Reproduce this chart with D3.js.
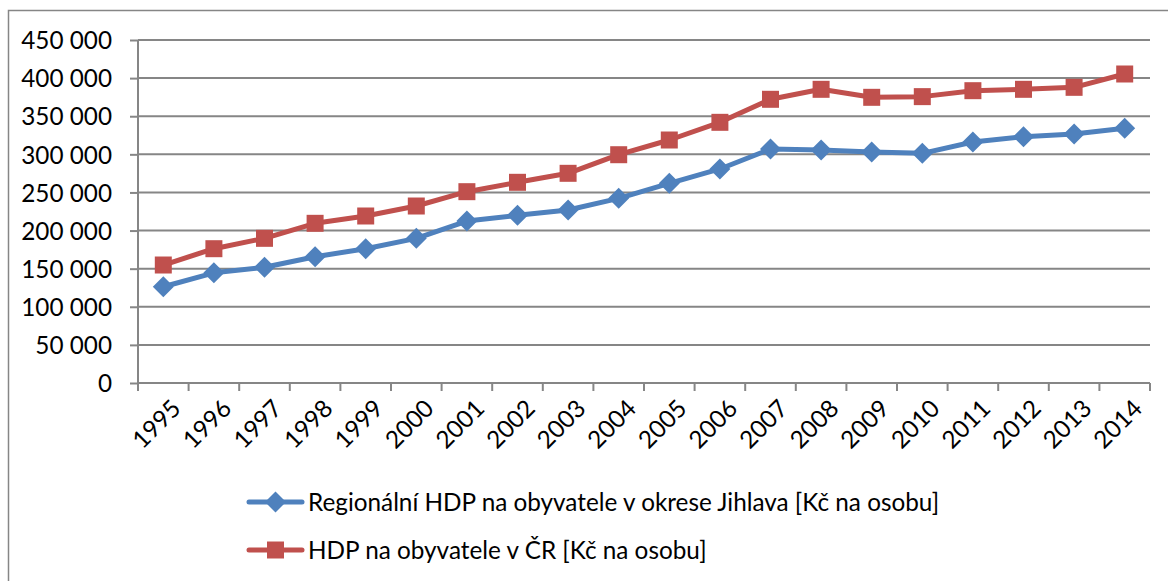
<!DOCTYPE html>
<html>
<head>
<meta charset="utf-8">
<script src="https://cdn.jsdelivr.net/npm/d3@7"></script>
<style>
  body { margin: 0; background: #fff; }
  text { font-family: Lato, "Open Sans", sans-serif; fill: #000; }
</style>
</head>
<body>
<svg id="chart"></svg>
<script>
const years = ["1995","1996","1997","1998","1999","2000","2001","2002","2003","2004",
               "2005","2006","2007","2008","2009","2010","2011","2012","2013","2014"];
const jihlava = [126300, 144500, 151800, 165700, 176200, 189800, 212500, 220000, 227000, 242300,
                 262000, 280800, 307000, 305700, 303100, 301300, 316200, 323200, 326700, 334100];
const czechia = [154800, 176200, 189800, 209500, 219100, 232200, 251000, 263300, 275100, 299500,
                 318800, 342000, 372200, 385300, 374800, 375700, 383500, 385300, 387900, 405400];
const yTicks = [0, 50000, 100000, 150000, 200000, 250000, 300000, 350000, 400000, 450000];
const seriesNames = ["Regionální HDP na obyvatele v okrese Jihlava [Kč na osobu]",
                     "HDP na obyvatele v ČR [Kč na osobu]"];

const svgWidth = 1168, svgHeight = 581;
const margin = {top: 40, left: 138, right: 18, bottom: 198};
const width = svgWidth - margin.left - margin.right,
      height = svgHeight - margin.top - margin.bottom;

const blue = "#4F81BD", red = "#C0504D", grey = "#868686";
const fontSize = "24.3px";

const chart = d3.select("#chart")
    .attr("width", svgWidth)
    .attr("height", svgHeight);

// outer chart border (runs off the right and bottom edge)
chart.append("rect")
    .attr("x", 8.5).attr("y", 10.5)
    .attr("width", svgWidth + 10).attr("height", svgHeight + 10)
    .attr("fill", "none").attr("stroke", grey).attr("stroke-width", 1.5);

const inner = chart.append("g")
    .attr("transform", "translate(" + margin.left + "," + margin.top + ")");

const xScale = d3.scaleBand().domain(years).range([0, width]);
const yScale = d3.scaleLinear().domain([0, 450000]).range([height, 0]);

const fmt = v => d3.format(",")(v).replace(/,/g, " ");

// gridlines
inner.append("g").selectAll("line")
    .data(yTicks.filter(d => d > 0))
    .enter().append("line")
    .attr("x1", 0).attr("x2", width)
    .attr("y1", d => yScale(d)).attr("y2", d => yScale(d))
    .attr("stroke", grey).attr("stroke-width", 2);

// y axis
const yAxis = inner.append("g")
    .call(d3.axisLeft(yScale).tickValues(yTicks).tickFormat(fmt).tickSize(8).tickPadding(18));
yAxis.selectAll("line").attr("stroke", grey).attr("stroke-width", 2);
yAxis.select(".domain").attr("stroke", grey).attr("stroke-width", 2).attr("d", "M0," + height + "V0");
yAxis.selectAll("text").style("font-size", fontSize).attr("fill", "#000").attr("dy", "0.36em");

// x axis with tick marks on the category boundaries
const xg = inner.append("g").attr("transform", "translate(0," + height + ")");
xg.append("line").attr("x1", 0).attr("x2", width)
    .attr("stroke", grey).attr("stroke-width", 2);
xg.selectAll(".tk")
    .data(d3.range(years.length + 1))
    .enter().append("line")
    .attr("x1", i => i * xScale.bandwidth()).attr("x2", i => i * xScale.bandwidth())
    .attr("y1", 0).attr("y2", 8)
    .attr("stroke", grey).attr("stroke-width", 2);
xg.selectAll(".lbl")
    .data(years)
    .enter().append("text")
    .attr("transform", d => "translate(" + (xScale(d) + xScale.bandwidth() / 2 + 7) + ",15) rotate(-45)")
    .attr("text-anchor", "end")
    .attr("dy", "0.7em")
    .style("font-size", fontSize)
    .text(d => d);

const cx = (d, i) => xScale(years[i]) + xScale.bandwidth() / 2;

function drawSeries(values, color, shape) {
    const line = d3.line().x(cx).y(d => yScale(d));
    inner.append("path")
        .datum(values)
        .attr("d", line)
        .attr("fill", "none")
        .attr("stroke", color)
        .attr("stroke-width", 5)
        .attr("stroke-linejoin", "round");
    inner.append("g").selectAll("path")
        .data(values)
        .enter().append("path")
        .attr("transform", (d, i) => "translate(" + cx(d, i) + "," + yScale(d) + ")")
        .attr("d", shape)
        .attr("fill", color);
}

const diamond = "M0,-10.5L10.5,0L0,10.5L-10.5,0Z";
const square = "M-8.5,-8.5H8.5V8.5H-8.5Z";

drawSeries(jihlava, blue, diamond);
drawSeries(czechia, red, square);

// legend
const legend = chart.append("g");
const legendItems = [
    {name: seriesNames[0], color: blue, shape: diamond, y: 502},
    {name: seriesNames[1], color: red, shape: square, y: 550}
];
legendItems.forEach(function(it) {
    legend.append("line")
        .attr("x1", 249).attr("x2", 302)
        .attr("y1", it.y).attr("y2", it.y)
        .attr("stroke", it.color).attr("stroke-width", 5).attr("stroke-linecap", "round");
    legend.append("path")
        .attr("transform", "translate(275.5," + it.y + ")")
        .attr("d", it.shape)
        .attr("fill", it.color);
    legend.append("text")
        .attr("x", 308).attr("y", it.y)
        .attr("dy", "0.36em")
        .style("font-size", fontSize)
        .text(it.name);
});
</script>
</body>
</html>
